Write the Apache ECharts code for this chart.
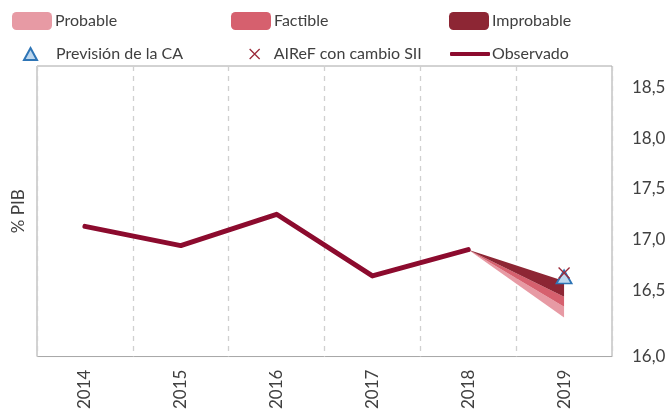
<!DOCTYPE html>
<html>
<head>
<meta charset="utf-8">
<script src="https://cdn.jsdelivr.net/npm/echarts@6/dist/echarts.min.js"></script>
<style>
html,body{margin:0;padding:0;background:#fff;}
#chart{width:669px;height:412px;}
</style>
</head>
<body>
<div id="chart"></div>
<script>
const years = ['2014', '2015', '2016', '2017', '2018', '2019'];
const observado = [17.13, 16.94, 17.25, 16.64, 16.90, null];
const probableLow = [null, null, null, null, 16.90, 16.23];
const factibleLow = [null, null, null, null, 16.90, 16.335];
const improbableLow = [null, null, null, null, 16.90, 16.435];
const improbableHigh = [null, null, null, null, 16.90, 16.59];
const prevision = [null, null, null, null, null, 16.63];
const airef = [null, null, null, null, null, 16.67];
const yTickValues = [15.843, 16.5, 17, 17.5, 18, 18.5];
const yTickLabels = ['16,0', '16,5', '17,0', '17,5', '18,0', '18,5'];
const yMin = 15.843, yMax = 18.716;

function diff(a, b) { return a.map((v, i) => (v == null || b[i] == null) ? null : +(v - b[i]).toFixed(4)); }

const cProb = '#e79aa4', cFact = '#d6606e', cImpr = '#8d2634', cObs = '#8c0b2e';
const font = 'Lato, "Open Sans", sans-serif';
const txt = '#404040';
const crossPath = 'path://M0,0L10,10M10,0L0,10';

const chart = echarts.init(document.getElementById('chart'));
function ts(padLeft) { return { fontSize: 16, color: txt, fontFamily: font, padding: [0, 0, 0, padLeft] }; }
const legendBase = { orient: 'horizontal', padding: 0, selectedMode: false };
chart.setOption({
  animation: false,
  textStyle: { fontFamily: font },
  grid: { left: 37, right: 57, top: 66, bottom: 53, show: true, borderColor: '#a6a6a6', borderWidth: 1, containLabel: false },
  legend: [
    Object.assign({}, legendBase, { left: 12, top: 12, itemWidth: 40, itemHeight: 18, icon: 'roundRect', data: ['Probable'], textStyle: ts(-2) }),
    Object.assign({}, legendBase, { left: 231, top: 12, itemWidth: 40, itemHeight: 18, icon: 'roundRect', data: ['Factible'], textStyle: ts(-2) }),
    Object.assign({}, legendBase, { left: 449, top: 12, itemWidth: 40, itemHeight: 18, icon: 'roundRect', data: ['Improbable'], textStyle: ts(-2) }),
    Object.assign({}, legendBase, { left: 23, top: 46, itemWidth: 13, itemHeight: 12, data: [{ name: 'Previsión de la CA', icon: 'triangle' }], textStyle: ts(14) }),
    Object.assign({}, legendBase, { left: 249, top: 46, itemWidth: 10, itemHeight: 10, data: [{ name: 'AIReF con cambio SII', icon: crossPath, itemStyle: { color: 'rgba(0,0,0,0)', borderColor: '#9b2a3a', borderWidth: 1.3 } }], textStyle: ts(9) }),
    Object.assign({}, legendBase, { left: 450, top: 46, itemWidth: 40, itemHeight: 4, data: [{ name: 'Observado', icon: 'roundRect', itemStyle: { color: cObs } }], textStyle: ts(-3) })
  ],
  xAxis: {
    type: 'category', data: years, boundaryGap: true,
    axisLine: { show: false }, axisTick: { show: false },
    axisLabel: { rotate: 90, fontSize: 17, color: txt, margin: 13, fontFamily: font },
    splitLine: { show: true, lineStyle: { color: '#d0d0d0', type: [5, 5], width: 1.3 } }
  },
  yAxis: [
    {
      type: 'value', position: 'right', min: yMin, max: yMax,
      axisLine: { show: false }, axisTick: { show: false }, splitLine: { show: false },
      axisLabel: {
        customValues: yTickValues, fontSize: 17, color: txt, margin: 20, fontFamily: font,
        formatter: function (v) { const i = yTickValues.findIndex(t => Math.abs(t - v) < 1e-6); return i >= 0 ? yTickLabels[i] : ''; }
      }
    },
    {
      type: 'value', position: 'left', min: yMin, max: yMax,
      axisLine: { show: false }, axisTick: { show: false }, splitLine: { show: false }, axisLabel: { show: false },
      name: '% PIB', nameLocation: 'middle', nameGap: 10, nameTextStyle: { fontSize: 17, color: txt, fontFamily: font }
    }
  ],
  series: [
    { name: 'base', type: 'line', stack: 'fan', data: probableLow, symbol: 'none', lineStyle: { width: 0 }, silent: true, z: 1 },
    { name: 'Probable', type: 'line', stack: 'fan', data: diff(factibleLow, probableLow), color: cProb, symbol: 'none', lineStyle: { width: 0 }, areaStyle: { color: cProb, opacity: 1 }, z: 2 },
    { name: 'Factible', type: 'line', stack: 'fan', data: diff(improbableLow, factibleLow), color: cFact, symbol: 'none', lineStyle: { width: 0 }, areaStyle: { color: cFact, opacity: 1 }, z: 3 },
    { name: 'Improbable', type: 'line', stack: 'fan', data: diff(improbableHigh, improbableLow), color: cImpr, symbol: 'none', lineStyle: { width: 0 }, areaStyle: { color: cImpr, opacity: 1 }, z: 4 },
    { name: 'Observado', type: 'line', data: observado, color: cObs, symbol: 'none', lineStyle: { width: 5, color: cObs, cap: 'round', join: 'round' }, z: 5 },
    { name: 'Previsión de la CA', type: 'scatter', data: prevision, symbol: 'triangle', symbolSize: [15, 13], itemStyle: { color: '#bdd7ee', borderColor: '#2e75b6', borderWidth: 1.8, opacity: 1 }, z: 6 },
    { name: 'AIReF con cambio SII', type: 'scatter', data: airef, symbol: crossPath, symbolSize: 11, itemStyle: { color: 'rgba(0,0,0,0)', borderColor: '#9b2a3a', borderWidth: 1.3, opacity: 1 }, z: 7 }
  ]
});
</script>
</body>
</html>
